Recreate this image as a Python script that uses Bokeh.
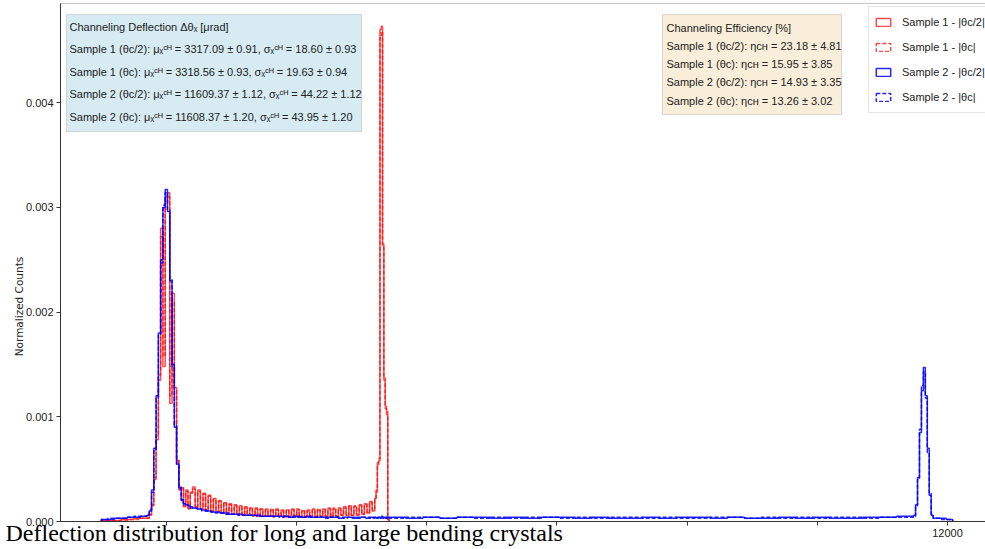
import numpy as np
from bokeh.plotting import figure
from bokeh.models import (Range1d, Label, BoxAnnotation, Legend, LegendItem, FixedTicker,
                          LinearAxis)
from bokeh.embed import file_html
from bokeh.resources import INLINE

# ---------------- data (normalized counts per bin) -------------
# histogram bin segments: (start, stop, bin width) in µrad
bins_sample1 = [(-1000, -300, 100), (-300, 400, 35), (400, 3200, 40), (3200, 3420, 20)]
bins_sample2 = [(-1000, -300, 100), (-300, 400, 35), (400, 3200, 70), (3200, 3420, 20),
                (3420, 11480, 260), (11480, 11780, 30), (11780, 12080, 100)]

# Sample 1 - |theta_c/2|
s1_half_left = [0.00001, 0.00001, 0.00001, 0.00002, 0.00002, 0.00003, 0.00003]
s1_half_am = [0.00003, 0.00006, 0.00015, 0.00040, 0.00078, 0.00135, 0.00280, 0.00148, 0.00310, 0.00314,
              0.00113, 0.00218, 0.00128, 0.00058, 0.00030, 0.00032, 0.00014, 0.00030, 0.00012, 0.00028]
s1_half_tail = [0.00033, 0.00014, 0.00030, 0.00012, 0.00027, 0.00011, 0.00025, 0.00010, 0.00022, 0.00009,
                0.00020, 0.00008, 0.00018, 0.00008, 0.00017, 0.00007, 0.00016, 0.00007, 0.00015, 0.00006,
                0.00014, 0.00006, 0.00013, 0.00006, 0.00013, 0.00005, 0.00012, 0.00005, 0.00012, 0.00005,
                0.00011, 0.00005, 0.00012, 0.00005, 0.00011, 0.00004, 0.00011, 0.00005, 0.00012, 0.00005,
                0.00011, 0.00004, 0.00010, 0.00004, 0.00011, 0.00005, 0.00012, 0.00004, 0.00011, 0.00005,
                0.00012, 0.00005, 0.00013, 0.00005, 0.00012, 0.00005, 0.00013, 0.00006, 0.00014, 0.00006,
                0.00015, 0.00006, 0.00014, 0.00006, 0.00016, 0.00007, 0.00017, 0.00008, 0.00019, 0.00010]
s1_half_ch = [0.00022, 0.00030, 0.00056, 0.00058, 0.00470, 0.00473, 0.00265, 0.00135, 0.00110, 0.00105, 0.00002]

# Sample 1 - |theta_c|
s1_full_left = [0.00001, 0.00001, 0.00001, 0.00001, 0.00002, 0.00002, 0.00003]
s1_full_am = [0.00003, 0.00007, 0.00016, 0.00042, 0.00082, 0.00140, 0.00272, 0.00158, 0.00305, 0.00310,
              0.00120, 0.00210, 0.00125, 0.00060, 0.00031, 0.00033, 0.00015, 0.00029, 0.00013, 0.00027]
s1_full_tail = [0.00031, 0.00013, 0.00029, 0.00012, 0.00026, 0.00010, 0.00024, 0.00010, 0.00021, 0.00009,
                0.00019, 0.00008, 0.00018, 0.00007, 0.00016, 0.00007, 0.00015, 0.00006, 0.00014, 0.00006,
                0.00013, 0.00006, 0.00013, 0.00005, 0.00012, 0.00005, 0.00012, 0.00005, 0.00011, 0.00005,
                0.00012, 0.00004, 0.00011, 0.00005, 0.00010, 0.00005, 0.00011, 0.00004, 0.00011, 0.00005,
                0.00012, 0.00004, 0.00011, 0.00005, 0.00010, 0.00004, 0.00011, 0.00005, 0.00012, 0.00005,
                0.00011, 0.00005, 0.00012, 0.00005, 0.00013, 0.00005, 0.00012, 0.00006, 0.00013, 0.00006,
                0.00014, 0.00006, 0.00015, 0.00007, 0.00015, 0.00007, 0.00016, 0.00008, 0.00018, 0.00011]
s1_full_ch = [0.00021, 0.00028, 0.00052, 0.00060, 0.00462, 0.00468, 0.00262, 0.00138, 0.00108, 0.00102, 0.00002]

# Sample 2 - |theta_c/2|
s2_half_left = [0.00002, 0.00002, 0.00003, 0.00003, 0.00004, 0.00004, 0.00005]
s2_half_am = [0.00006, 0.00010, 0.00030, 0.00070, 0.00120, 0.00180, 0.00250, 0.00300, 0.00317, 0.00296,
              0.00230, 0.00150, 0.00090, 0.00055, 0.00032, 0.00020, 0.00017, 0.00016, 0.00015, 0.00014]
s2_half_tail = [0.00013, 0.00012, 0.00011, 0.00010, 0.00009, 0.00009, 0.00008, 0.00008, 0.00007, 0.00007,
                0.00007, 0.00006, 0.00006, 0.00006, 0.00006, 0.00005, 0.00005, 0.00005, 0.00005, 0.00005,
                0.00005, 0.00004, 0.00005, 0.00004, 0.00004, 0.00005, 0.00004, 0.00004, 0.00004, 0.00004,
                0.00004, 0.00004, 0.00003, 0.00004, 0.00004, 0.00003, 0.00004, 0.00004, 0.00003, 0.00004]
s2_half_mid = [0.00004, 0.00003, 0.00004, 0.00004, 0.00003, 0.00005, 0.00004, 0.00004, 0.00003, 0.00004, 0.00004]
s2_half_flat = [0.00004, 0.00003, 0.00004, 0.00003, 0.00004, 0.00004, 0.00003, 0.00004, 0.00003, 0.00004,
                0.00004, 0.00003, 0.00004, 0.00003, 0.00003, 0.00004, 0.00003, 0.00004, 0.00004, 0.00003,
                0.00004, 0.00003, 0.00003, 0.00004, 0.00003, 0.00004, 0.00003, 0.00003, 0.00004, 0.00004, 0.00005]
s2_half_ch = [0.00006, 0.00016, 0.00042, 0.00085, 0.00125, 0.00147, 0.00120, 0.00070, 0.00025, 0.00006]
s2_half_right = [0.00003, 0.00003, 0.00002]

# Sample 2 - |theta_c|
s2_full_left = [0.00002, 0.00003, 0.00003, 0.00003, 0.00004, 0.00005, 0.00005]
s2_full_am = [0.00007, 0.00011, 0.00028, 0.00068, 0.00118, 0.00178, 0.00247, 0.00302, 0.00314, 0.00298,
              0.00232, 0.00148, 0.00092, 0.00054, 0.00033, 0.00021, 0.00017, 0.00016, 0.00015, 0.00013]
s2_full_tail = [0.00013, 0.00012, 0.00010, 0.00010, 0.00009, 0.00008, 0.00008, 0.00007, 0.00007, 0.00007,
                0.00006, 0.00006, 0.00006, 0.00006, 0.00005, 0.00005, 0.00005, 0.00005, 0.00005, 0.00004,
                0.00005, 0.00004, 0.00004, 0.00005, 0.00004, 0.00004, 0.00004, 0.00004, 0.00004, 0.00003,
                0.00004, 0.00004, 0.00004, 0.00003, 0.00004, 0.00004, 0.00003, 0.00004, 0.00004, 0.00003]
s2_full_mid = [0.00004, 0.00004, 0.00003, 0.00004, 0.00004, 0.00004, 0.00003, 0.00004, 0.00004, 0.00003, 0.00004]
s2_full_flat = [0.00003, 0.00004, 0.00004, 0.00003, 0.00004, 0.00003, 0.00004, 0.00003, 0.00004, 0.00004,
                0.00003, 0.00004, 0.00003, 0.00004, 0.00004, 0.00003, 0.00004, 0.00003, 0.00003, 0.00004,
                0.00004, 0.00003, 0.00004, 0.00003, 0.00004, 0.00003, 0.00004, 0.00004, 0.00003, 0.00004, 0.00004]
s2_full_ch = [0.00005, 0.00015, 0.00040, 0.00088, 0.00130, 0.00143, 0.00118, 0.00066, 0.00027, 0.00007]
s2_full_right = [0.00003, 0.00002, 0.00002]

series_labels = ["Sample 1 - |θc/2|", "Sample 1 - |θc|", "Sample 2 - |θc/2|", "Sample 2 - |θc|"]
x_ticks = [0, 2000, 4000, 6000, 8000, 10000, 12000]
x_tick_labels = ["", "", "", "", "", "", "12000"]
y_ticks = [0.0, 0.001, 0.002, 0.003, 0.004]
y_tick_labels = ["0.000", "0.001", "0.002", "0.003", "0.004"]
y_title = "Normalized Counts"

deflection_lines = [
    "Channeling Deflection Δθₓ [μrad]",
    "Sample 1 (θc/2): μₓᶜᴴ = 3317.09 ± 0.91, σₓᶜᴴ = 18.60 ± 0.93",
    "Sample 1 (θc): μₓᶜᴴ = 3318.56 ± 0.93, σₓᶜᴴ = 19.63 ± 0.94",
    "Sample 2 (θc/2): μₓᶜᴴ = 11609.37 ± 1.12, σₓᶜᴴ = 44.22 ± 1.12",
    "Sample 2 (θc): μₓᶜᴴ = 11608.37 ± 1.20, σₓᶜᴴ = 43.95 ± 1.20",
]
efficiency_lines = [
    "Channeling Efficiency [%]",
    "Sample 1 (θc/2): ηᴄʜ = 23.18 ± 4.81",
    "Sample 1 (θc): ηᴄʜ = 15.95 ± 3.85",
    "Sample 2 (θc/2): ηᴄʜ = 14.93 ± 3.35",
    "Sample 2 (θc): ηᴄʜ = 13.26 ± 3.02",
]
caption = "Deflection distribution for long and large bending crystals"


# ---------------- helpers -------------
def make_edges(segs):
    out = [float(segs[0][0])]
    for a, b, w in segs:
        n = int(round((b - a) / w))
        out.extend(a + w * np.arange(1, n + 1))
    return np.array(out, float)


def step_outline(edges, vals):
    vals = np.asarray(vals, float)
    assert len(edges) == len(vals) + 1
    xs = np.repeat(edges, 2)
    ys = np.concatenate([[0.0], np.repeat(vals, 2), [0.0]])
    return xs, ys


edges1 = make_edges(bins_sample1)
edges2 = make_edges(bins_sample2)
s1_half = s1_half_left + s1_half_am + s1_half_tail + s1_half_ch
s1_full = s1_full_left + s1_full_am + s1_full_tail + s1_full_ch
s2_half = s2_half_left + s2_half_am + s2_half_tail + s2_half_mid + s2_half_flat + s2_half_ch + s2_half_right
s2_full = s2_full_left + s2_full_am + s2_full_tail + s2_full_mid + s2_full_flat + s2_full_ch + s2_full_right

# ---------------- geometry (canvas pixels) -------------
W, H = 985, 549
X0_PX, PX_PER_X = 166.0, 0.06508     # px of x=0, px per µrad
Y0_PX, PX_PER_Y = 521.0, 104700.0    # px of y=0, px per unit


def X(px):
    return (px - X0_PX) / PX_PER_X


def Y(py):
    return (Y0_PX - py) / PX_PER_Y


x_start, x_end = X(0), X(W)
y_start, y_end = Y(H), Y(0)

p = figure(width=W, height=H, output_backend="svg", toolbar_location=None,
           x_range=Range1d(x_start, x_end), y_range=Range1d(y_start, y_end),
           x_axis_location=None, y_axis_location=None,
           min_border_left=0, min_border_right=0, min_border_top=0, min_border_bottom=0)
p.background_fill_color = "white"
p.border_fill_color = "white"
p.outline_line_color = None
p.xgrid.visible = False
p.ygrid.visible = False

FONT = "'Liberation Sans', Arial, sans-serif"

xaxis = LinearAxis(fixed_location=0, bounds=(X(60), x_end), ticker=FixedTicker(ticks=x_ticks),
                   major_label_overrides={t: l for t, l in zip(x_ticks, x_tick_labels)})
yaxis = LinearAxis(fixed_location=X(60), bounds=(0, Y(3)), ticker=FixedTicker(ticks=y_ticks),
                   major_label_overrides={t: l for t, l in zip(y_ticks, y_tick_labels)})
for ax in (xaxis, yaxis):
    ax.minor_tick_line_color = None
    ax.major_tick_in = 0
    ax.major_tick_out = 4
    ax.major_tick_line_color = "#333333"
    ax.axis_line_color = "#333333"
    ax.major_label_text_font = FONT
    ax.major_label_text_font_size = "11px"
    ax.major_label_text_color = "#222222"
    ax.major_label_standoff = 3
p.add_layout(xaxis, "below")
p.add_layout(yaxis, "left")

# top/left/bottom spines
p.add_layout(BoxAnnotation(left=X(60), right=x_end + 2000, bottom=0, top=Y(3),
                           fill_alpha=0, line_color="#444444", line_width=1, level="underlay"))

styles = [("red", 0.7, "solid"), ("red", 0.7, "4 2"), ("blue", 0.85, "solid"), ("blue", 0.85, "4 2")]
data = [(edges1, s1_half), (edges1, s1_full), (edges2, s2_half), (edges2, s2_full)]
for (e, v), (c, a, d) in zip(data, styles):
    xs, ys = step_outline(e, v)
    p.line(xs, ys, line_color=c, line_alpha=a, line_width=1.5, line_dash=d)

# legend with rectangle patches (proxy glyphs hold NaN, so only their legend icon shows)
items = []
for lab, (c, a, d) in zip(series_labels, styles):
    r = p.quad(left=[np.nan], right=[np.nan], top=[np.nan], bottom=[np.nan],
               fill_color="white", fill_alpha=0, line_color=c,
               line_alpha=a, line_width=1.5, line_dash=d)
    items.append(LegendItem(label=lab, renderers=[r], index=0))
legend = Legend(items=items, location=(868, H - 113),
                label_text_font=FONT, label_text_font_size="11px", label_text_color="#222222",
                glyph_width=18, glyph_height=10, label_standoff=10, spacing=5,
                label_height=20, padding=5, margin=0,
                border_line_color="#cccccc", background_fill_alpha=0.9)
p.add_layout(legend)

# text boxes
p.add_layout(BoxAnnotation(left=X(66), right=X(361), top=Y(14), bottom=Y(131),
                           fill_color="#d6ebf2", fill_alpha=1.0, line_color="#8a8a8a",
                           line_width=1, level="annotation"))
p.add_layout(BoxAnnotation(left=X(662), right=X(841), top=Y(14), bottom=Y(114),
                           fill_color="#f9eed9", fill_alpha=1.0, line_color="#8a8a8a",
                           line_width=1, level="annotation"))
for i, t in enumerate(deflection_lines):
    p.add_layout(Label(x=X(69), y=Y(26 + 22.6 * i), text=t, text_font=FONT,
                       text_font_size="11px", text_baseline="middle", text_color="#222222"))
for i, t in enumerate(efficiency_lines):
    p.add_layout(Label(x=X(666), y=Y(27 + 18.3 * i), text=t, text_font=FONT,
                       text_font_size="11px", text_baseline="middle", text_color="#222222"))

p.add_layout(Label(x=X(18), y=Y(306), text=y_title, angle=90, angle_units="deg",
                   text_font="'DejaVu Sans', sans-serif", text_font_size="10.5px",
                   text_align="center", text_baseline="middle", text_color="#222222"))

p.add_layout(Label(x=X(5), y=Y(532), text=caption,
                   text_font="'Liberation Serif', 'Times New Roman', serif",
                   text_font_size="24px", text_baseline="alphabetic", text_color="black"))

open("out.html", "w").write(file_html(p, INLINE))
